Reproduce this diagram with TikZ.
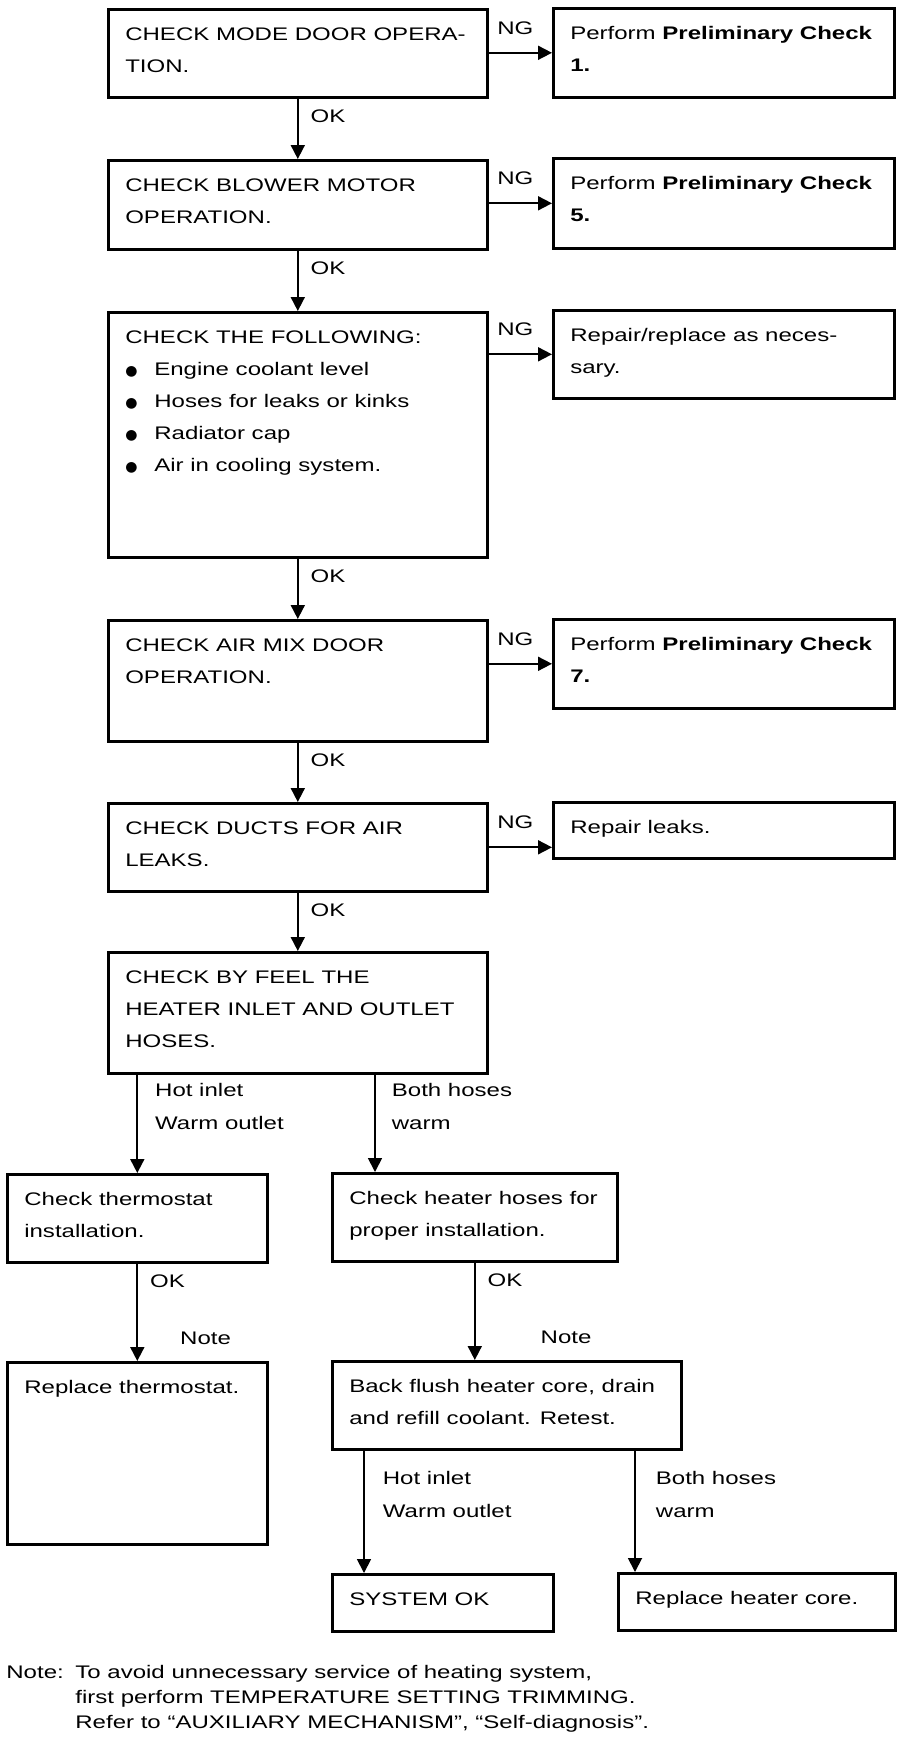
\documentclass[tikz,border=0pt]{standalone}
\usepackage{fontspec}
\setmainfont[FakeStretch=1.32]{Liberation Sans}
\newfontfamily\symfont{DejaVu Sans}
\usetikzlibrary{arrows.meta,calc,positioning}

\newcommand{\boxbody}[3]{\parbox[t][#2][t]{#1}{\raggedright\leftskip=8.5pt\rule{0pt}{15.5pt}#3}}
\newcommand{\bul}{\makebox[14.5pt][l]{\symfont\fontsize{7pt}{7pt}\selectfont ●}}

\begin{document}
\begin{tikzpicture}[x=0.5pt,y=-0.5pt,
  font=\fontsize{9.1pt}{16pt}\selectfont,
  chk/.style={draw,line width=1.3pt,anchor=north west,inner sep=0pt},
  flow/.style={->,line width=0.9pt,>={Triangle[length=7pt,width=7pt]}},
  oklbl/.style={pos=0,anchor=base west,inner sep=0pt,xshift=6pt,yshift=-11.75pt},
  nglbl/.style={midway,anchor=base,inner sep=0pt,xshift=-2.5pt,yshift=9.25pt},
  brlbl/.style={pos=0,anchor=base west,inner sep=0pt,align=left,
    font=\fontsize{9.1pt}{16.5pt}\selectfont},
  notelbl/.style={pos=1,anchor=base west,inner sep=0pt,yshift=8.25pt}]
  \useasboundingbox (0,0) rectangle (896,1740);

  % main column
  \node[chk] (mode) at (107,8) {\boxbody{189.5pt}{44pt}{CHECK MODE DOOR OPERA-\\TION.}};
  \node[chk] (blower) at (107,159) {\boxbody{189.5pt}{44.5pt}{CHECK BLOWER MOTOR\\OPERATION.}};
  \node[chk] (follow) at (107,311) {\boxbody{189.5pt}{122.5pt}{CHECK THE FOLLOWING:\\
    \bul Engine coolant level\\
    \bul Hoses for leaks or kinks\\
    \bul Radiator cap\\
    \bul Air in cooling system.}};
  \node[chk] (airmix) at (107,619) {\boxbody{189.5pt}{60.5pt}{CHECK AIR MIX DOOR\\OPERATION.}};
  \node[chk] (ducts) at (107,802) {\boxbody{189.5pt}{44pt}{CHECK DUCTS FOR AIR\\LEAKS.}};
  \node[chk] (feel) at (107,951) {\boxbody{189.5pt}{60.5pt}{CHECK BY FEEL THE\\HEATER INLET AND OUTLET\\HOSES.}};

  % NG column
  \node[chk] (ng1) at (552,7) {\boxbody{170.5pt}{44.5pt}{Perform \textbf{Preliminary Check}\\\textbf{1.}}};
  \node[chk] (ng2) at (552,157) {\boxbody{170.5pt}{45pt}{Perform \textbf{Preliminary Check}\\\textbf{5.}}};
  \node[chk] (ng3) at (552,309) {\boxbody{170.5pt}{44pt}{Repair/replace as neces-\\sary.}};
  \node[chk] (ng4) at (552,618) {\boxbody{170.5pt}{44.5pt}{Perform \textbf{Preliminary Check}\\\textbf{7.}}};
  \node[chk] (ng5) at (552,801) {\boxbody{170.5pt}{28pt}{Repair leaks.}};

  % heater branches
  \node[chk] (thermo) at (6,1173) {\boxbody{130pt}{44pt}{Check thermostat\\installation.}};
  \node[chk] (hoses) at (331,1172) {\boxbody{142.5pt}{44pt}{Check heater hoses for\\proper installation.}};
  \node[chk] (repthermo) at (6,1361) {\boxbody{130pt}{91pt}{Replace thermostat.}};
  \node[chk] (flush) at (331,1360) {\boxbody{174.5pt}{44pt}{Back flush heater core, drain\\and refill coolant. Retest.}};
  \node[chk] (sysok) at (331,1573) {\boxbody{110.5pt}{28.5pt}{SYSTEM OK}};
  \node[chk] (repcore) at (617,1572) {\boxbody{138.5pt}{28.5pt}{Replace heater core.}};

  \draw[flow] (mode) -- (blower) node[oklbl] {OK};
  \draw[flow] (blower) -- (follow) node[oklbl] {OK};
  \draw[flow] (follow) -- (airmix) node[oklbl] {OK};
  \draw[flow] (airmix) -- (ducts) node[oklbl] {OK};
  \draw[flow] (ducts) -- (feel) node[oklbl] {OK};

  \draw[flow] (mode.east |- ng1.west) -- (ng1.west) node[nglbl] {NG};
  \draw[flow] (blower.east |- ng2.west) -- (ng2.west) node[nglbl] {NG};
  \draw[flow] (follow.east |- ng3.west) -- (ng3.west) node[nglbl] {NG};
  \draw[flow] (airmix.east |- ng4.west) -- (ng4.west) node[nglbl] {NG};
  \draw[flow] (ducts.east) -- (ducts.east -| ng5.west) node[nglbl] {NG};

  \coordinate (feelR) at ($(feel.south west)+(268,0)$);
  \draw[flow] (thermo.north |- feel.south) -- (thermo.north)
    node[brlbl,xshift=8.5pt,yshift=-27.25pt] {Hot inlet\\Warm outlet};
  \draw[flow] (feelR) -- (feelR |- hoses.north)
    node[brlbl,xshift=8pt,yshift=-27.25pt] {Both hoses\\warm};

  \draw[flow] (thermo) -- (repthermo) node[oklbl] {OK}
    node[notelbl,xshift=21pt] {Note};
  \draw[flow] (hoses) -- (hoses |- flush.north) node[oklbl] {OK}
    node[notelbl,xshift=32.5pt] {Note};

  \coordinate (flushL) at ($(flush.south west)+(33,0)$);
  \coordinate (coreL) at ($(repcore.north west)+(18,0)$);
  \draw[flow] (flushL) -- (flushL |- sysok.north)
    node[brlbl,xshift=9pt,yshift=-33.25pt] {Hot inlet\\Warm outlet};
  \draw[flow] (coreL |- flush.south) -- (coreL)
    node[brlbl,xshift=10pt,yshift=-33.25pt] {Both hoses\\warm};

  % footnote
  \node[anchor=base west,inner sep=0pt] (notehead) at (6,1678.5) {Note:};
  \node[anchor=base west,inner sep=0pt,align=left,
    font=\fontsize{9.1pt}{12.5pt}\selectfont] (notebody) at (75,1728.5)
    {To avoid unnecessary service of heating system,\\
     first perform TEMPERATURE SETTING TRIMMING.\\
     Refer to “AUXILIARY MECHANISM”, “Self-diagnosis”.};
\end{tikzpicture}
\end{document}
